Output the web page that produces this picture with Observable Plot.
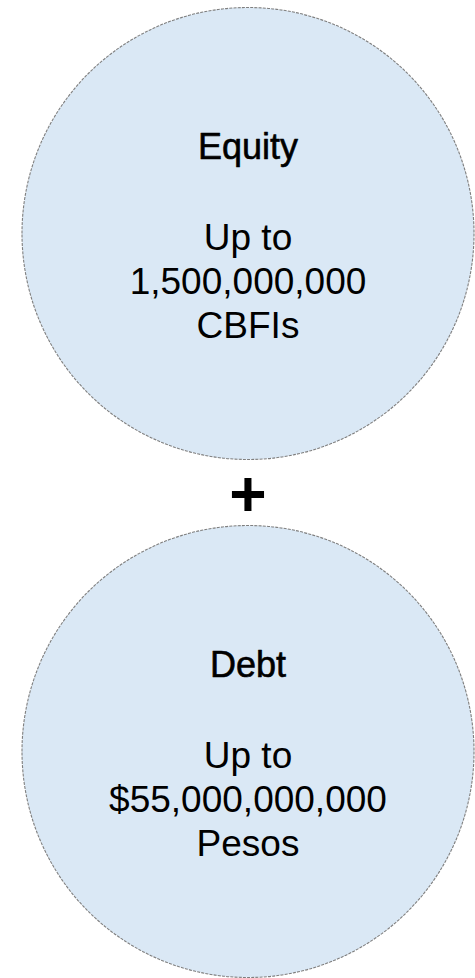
<!DOCTYPE html>
<html>
<head>
<meta charset="utf-8">
<script src="https://cdn.jsdelivr.net/npm/d3@7"></script>
<script src="https://cdn.jsdelivr.net/npm/@observablehq/plot@0.6"></script>
<style>
  html, body { margin: 0; padding: 0; background: #ffffff; }
  #chart svg { display: block; }
</style>
</head>
<body>
<div id="chart"></div>
<script>
// ---- data ----
const categories = ["Equity", "Debt"];
const titles = ["Equity", "Debt"];
const amountLines = [
  "Up to\n1,500,000,000\nCBFIs",
  "Up to\n$55,000,000,000\nPesos"
];
const connector = "+";

const circles = categories.map((c, i) => ({ key: c, title: titles[i], body: amountLines[i] }));
const joiner = [{ key: connector, label: connector }];

const chart = Plot.plot({
  width: 475,
  height: 978,
  marginLeft: 20,
  marginRight: 0,
  marginTop: 0,
  marginBottom: 0,
  style: { background: "#ffffff", overflow: "visible" },
  y: { type: "point", domain: [categories[0], connector, categories[1]], range: [232.5, 752], padding: 0, axis: null },
  marks: [
    Plot.dot(circles, {
      y: "key",
      r: 226,
      fill: "#dae8f5",
      stroke: "#7f7f7f",
      strokeWidth: 1.1,
      strokeDasharray: "3,1.2"
    }),
    Plot.text(circles, {
      y: "key",
      text: "title",
      fontFamily: "Liberation Sans, Arial, sans-serif",
      fontSize: 36,
      fill: "#000000",
      stroke: "#000000",
      strokeWidth: 0.6,
      lineAnchor: "middle",
      dy: -86
    }),
    Plot.text(circles, {
      y: "key",
      text: "body",
      fontFamily: "Liberation Sans, Arial, sans-serif",
      fontSize: 37,
      lineHeight: 1.19,
      fill: "#000000",
      lineAnchor: "middle",
      dy: 46.5
    }),
    Plot.text(joiner, {
      y: "key",
      text: "label",
      fontFamily: "Liberation Sans, Arial, sans-serif",
      fontSize: 64,
      fontWeight: "bold",
      fill: "#000000",
      lineAnchor: "middle",
      dy: 3
    })
  ]
});
document.getElementById("chart").appendChild(chart);
</script>
</body>
</html>
